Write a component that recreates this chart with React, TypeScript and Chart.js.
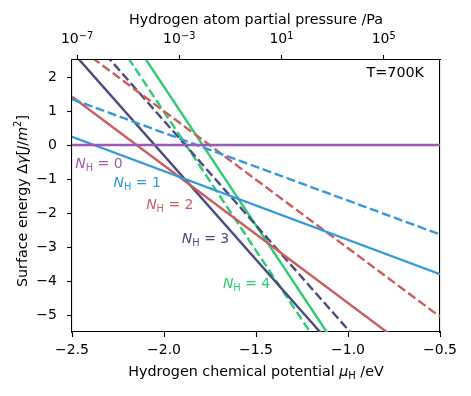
import React, { useEffect, useRef } from "react";
import { Chart, registerables } from "chart.js";

Chart.register(...registerables);

// ---- data ----
const muEnds = [-2.5, -0.5]; // chemical potential (eV) at which each line is sampled
const n0Line = [0, 0];
const n1Solid = [0.24, -3.8];
const n1Dashed = [1.35, -2.63];
const n2Solid = [1.42, -6.67];
const n2Dashed = [3.01, -5.05];
const n3Solid = [2.75, -9.49];
const n3Dashed = [3.78, -8.5];
const n4Solid = [5.79, -10.52];
const n4Dashed = [5.05, -11.26];

const xTicks = [-2.5, -2.0, -1.5, -1.0, -0.5];
const yTicks = [-5, -4, -3, -2, -1, 0, 1, 2];
const pressureExponents = [-7, -3, 1, 5];
const logPAtMuMin = -7.196;
const temperatureK = 700;
const kBoltzmann = 8.617e-5;

const labelN = [0, 1, 2, 3, 4];
const labelMu = [-2.482, -2.274, -2.097, -1.903, -1.68];
const labelGamma = [-0.68, -1.23, -1.89, -2.89, -4.21];

const colors = ["#9b59b6", "#3498db", "#cd5c5c", "#4a4a7f", "#2ecc71"];

const FONT = '"DejaVu Sans"';
const FS = 14;
const TFS = 14.3;
const DASH = [8.9, 3.8];
const LW = 2.4;

type Seg = { t: string; font: string; dy?: number };

function drawRich(ctx: CanvasRenderingContext2D, segs: Seg[], x: number, y: number, align: string) {
  const widths = segs.map((s) => {
    ctx.font = s.font;
    return ctx.measureText(s.t).width;
  });
  const total = widths.reduce((a, b) => a + b, 0);
  let cx = align === "center" ? x - total / 2 : align === "right" ? x - total : x;
  ctx.textAlign = "left";
  ctx.textBaseline = "alphabetic";
  segs.forEach((s, i) => {
    ctx.font = s.font;
    ctx.fillText(s.t, cx, y + (s.dy || 0));
    cx += widths[i];
  });
}

const reg = `${FS}px ${FONT}`;
const ital = `italic ${FS}px ${FONT}`;
const small = `${FS * 0.7}px ${FONT}`;
const treg = `${TFS}px ${FONT}`;
const tital = `italic ${TFS}px ${FONT}`;
const tsmall = `${TFS * 0.7}px ${FONT}`;

const fmtMinus = (v: number) => (v < 0 ? "\u2212" + Math.abs(v) : String(v));

const textPlugin = {
  id: "texts",
  afterDraw(chart: any) {
    const ctx: CanvasRenderingContext2D = chart.ctx;
    const xs = chart.scales.x;
    const ys = chart.scales.y;
    const x2 = chart.scales.x2;
    const area = chart.chartArea;
    ctx.save();
    // curve labels
    labelN.forEach((n, i) => {
      ctx.fillStyle = colors[i];
      drawRich(
        ctx,
        [
          { t: "N", font: ital },
          { t: "H", font: small, dy: 3 },
          { t: " = " + n, font: reg },
        ],
        xs.getPixelForValue(labelMu[i]),
        ys.getPixelForValue(labelGamma[i]),
        "left"
      );
    });
    ctx.fillStyle = "#000";
    // top tick labels (power-of-ten with raised exponent)
    pressureExponents.forEach((e) => {
      drawRich(
        ctx,
        [
          { t: "10", font: reg },
          { t: fmtMinus(e), font: small, dy: -4.5 },
        ],
        x2.getPixelForValue(e),
        43,
        "center"
      );
    });
    // temperature note
    drawRich(ctx, [{ t: "T=" + temperatureK + "K", font: treg }], xs.getPixelForValue(-0.587), ys.getPixelForValue(2.01), "right");
    const cx = (area.left + area.right) / 2;
    // top title
    drawRich(ctx, [{ t: "Hydrogen atom partial pressure /Pa", font: treg }], cx, 24.3, "center");
    // bottom title
    drawRich(
      ctx,
      [
        { t: "Hydrogen chemical potential ", font: treg },
        { t: "\u03BC", font: tital },
        { t: "H", font: tsmall, dy: 3 },
        { t: " /eV", font: treg },
      ],
      cx,
      376,
      "center"
    );
    // y title
    ctx.translate(26.5, (area.top + area.bottom) / 2 + 5);
    ctx.rotate(-Math.PI / 2);
    drawRich(
      ctx,
      [
        { t: "Surface energy ", font: treg },
        { t: "\u0394", font: treg },
        { t: "\u03B3", font: tital },
        { t: "[", font: treg },
        { t: "J", font: tital },
        { t: "/", font: treg },
        { t: "m", font: tital },
        { t: "2", font: tsmall, dy: -5.5 },
        { t: "]", font: treg },
      ],
      0,
      0,
      "center"
    );
    ctx.restore();
  },
};

function line(vals: number[], color: string, dashed: boolean) {
  return {
    data: muEnds.map((x, i) => ({ x, y: vals[i] })),
    borderColor: color,
    backgroundColor: color,
    borderWidth: LW,
    borderDash: dashed ? DASH : [],
    pointRadius: 0,
    fill: false,
    tension: 0,
    clip: 0,
  };
}

const fmt = (v: number) => (v < 0 ? "\u2212" + Math.abs(v).toFixed(1) : v.toFixed(1));

export default function App() {
  const ref = useRef<HTMLCanvasElement>(null);
  useEffect(() => {
    if (!ref.current) return;
    const tickFont = { family: FONT, size: FS };
    const axisCommon = (len: number) => ({
      grid: { display: true, drawOnChartArea: false, drawTicks: true, tickLength: len, tickWidth: 1.1, tickColor: "#000" },
      border: { display: true, color: "#000", width: 1.1 },
    });
    const chart = new Chart(ref.current, {
      type: "line",
      data: {
        datasets: [
          line(n0Line, colors[0], false),
          line(n1Solid, colors[1], false),
          line(n1Dashed, colors[1], true),
          line(n2Solid, colors[2], false),
          line(n2Dashed, colors[2], true),
          line(n3Solid, colors[3], false),
          line(n3Dashed, colors[3], true),
          line(n4Solid, colors[4], false),
          line(n4Dashed, colors[4], true),
        ] as any,
      },
      options: {
        animation: false,
        responsive: false,
        devicePixelRatio: 1,
        layout: { padding: 0 },
        plugins: { legend: { display: false }, tooltip: { enabled: false }, title: { display: false } },
        scales: {
          x: {
            type: "linear",
            position: "bottom",
            min: muEnds[0],
            max: muEnds[1],
            afterBuildTicks: (s: any) => { s.ticks = xTicks.map((v) => ({ value: v })); },
            afterFit: (s: any) => { s.height = 64; },
            ticks: { font: tickFont, color: "#000", padding: 5, maxRotation: 0, autoSkip: false, callback: (v: any) => fmt(Number(v)) },
            ...axisCommon(5),
          },
          x2: {
            type: "linear",
            position: "top",
            min: logPAtMuMin,
            max: logPAtMuMin + (muEnds[1] - muEnds[0]) / (kBoltzmann * temperatureK * Math.LN10),
            afterBuildTicks: (s: any) => { s.ticks = pressureExponents.map((v) => ({ value: v })); },
            afterFit: (s: any) => { s.height = 60; },
            ticks: { display: false, autoSkip: false },
            ...axisCommon(5),
          },
          y: {
            type: "linear",
            position: "left",
            min: -5.5,
            max: 2.5,
            afterBuildTicks: (s: any) => { s.ticks = yTicks.map((v) => ({ value: v })); },
            afterFit: (s: any) => { s.width = 72; },
            ticks: { font: tickFont, color: "#000", padding: 10, autoSkip: false, callback: (v: any) => fmtMinus(Number(v)) },
            ...axisCommon(5),
          },
          y2: {
            type: "linear",
            position: "right",
            min: -5.5,
            max: 2.5,
            afterFit: (s: any) => { s.width = 31; },
            ticks: { display: false },
            grid: { display: false },
            border: { display: true, color: "#000", width: 1.1 },
          },
        },
      } as any,
      plugins: [textPlugin],
    });
    return () => chart.destroy();
  }, []);
  return (
    <div style={{ position: "fixed", left: 0, top: 0, width: 471, height: 396, background: "#fff" }}>
      <canvas ref={ref} width={471} height={396} style={{ width: 471, height: 396, display: "block" }} />
    </div>
  );
}
